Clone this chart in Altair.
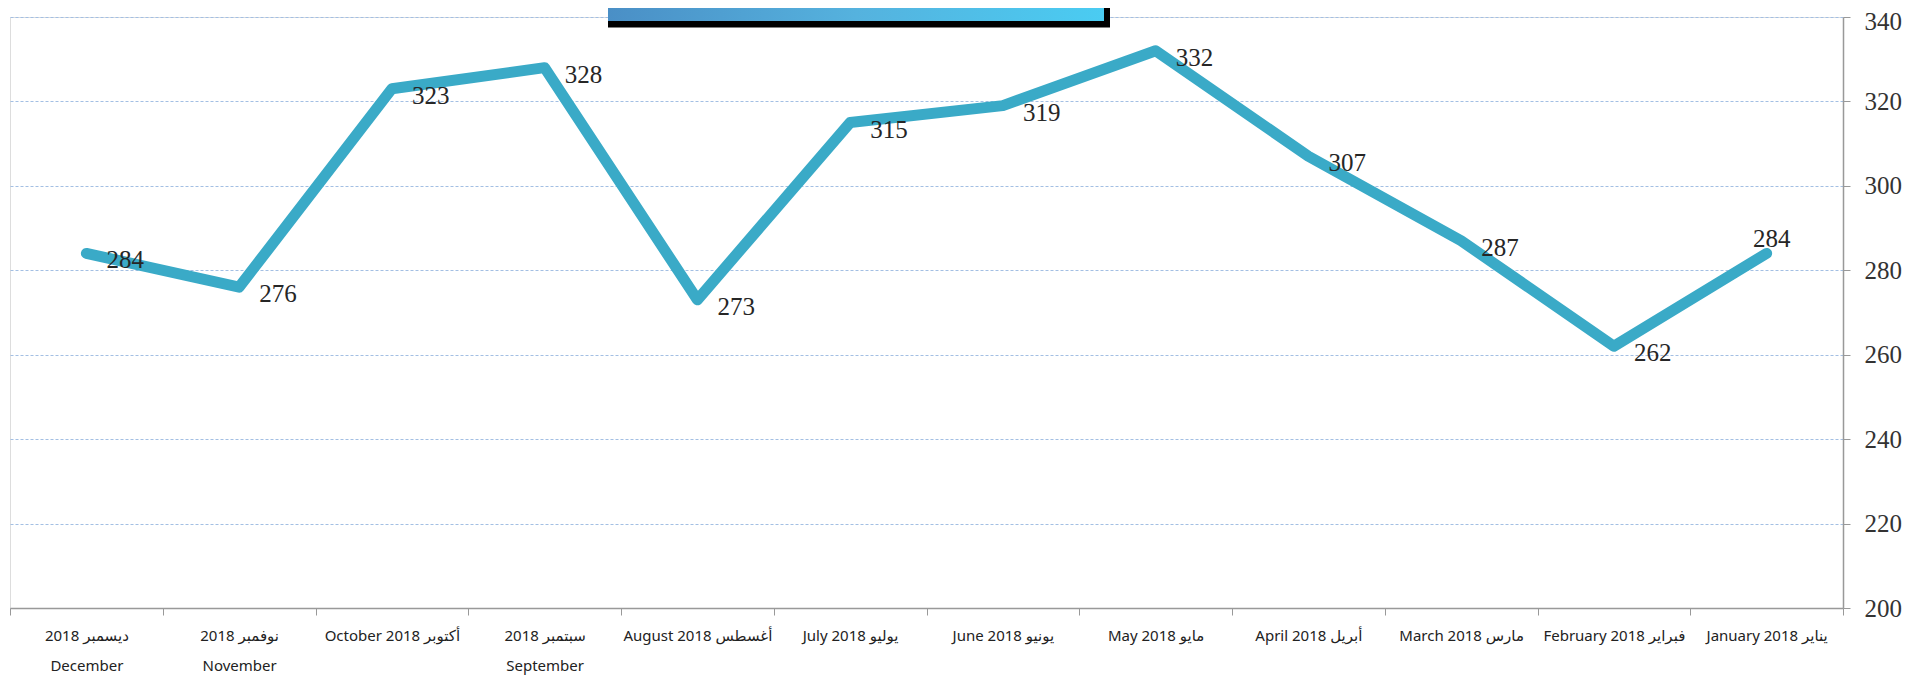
import altair as alt
import pandas as pd

months = [
    "ديسمبر 2018|December",
    "نوفمبر 2018|November",
    "October 2018 أكتوبر",
    "سبتمبر 2018|September",
    "August 2018 أغسطس",
    "July 2018 يوليو",
    "June 2018 يونيو",
    "May 2018 مايو",
    "April 2018 أبريل",
    "March 2018 مارس",
    "February 2018 فبراير",
    "January 2018 يناير",
]
values = [284, 276, 323, 328, 273, 315, 319, 332, 307, 287, 262, 284]
y_ticks = [200, 220, 240, 260, 280, 300, 320, 340]

df = pd.DataFrame({"month": months, "value": values})
df["is_jan"] = df["month"].str.startswith("January")

W, H = 1833, 591

x_enc = alt.X(
    "month:N",
    sort=months,
    scale=alt.Scale(paddingInner=0, paddingOuter=0),
    axis=alt.Axis(
        title=None,
        orient="bottom",
        labelAngle=0,
        labelExpr="split(datum.label, '|')",
        labelFont="Liberation Sans Narrow, Noto Sans, DejaVu Sans",
        labelFontSize=15,
        labelLineHeight=30,
        labelPadding=13,
        labelColor="#222222",
        tickBand="extent",
        tickSize=7,
        tickColor="#999999",
        domainColor="#999999",
        domainWidth=1.5,
        grid=False,
    ),
)
y_enc = alt.Y(
    "value:Q",
    scale=alt.Scale(domain=[200, 340], nice=False, zero=False),
    axis=alt.Axis(
        title=None,
        orient="right",
        values=y_ticks,
        grid=True,
        gridColor="#A3BFE3",
        gridDash=[3, 2],
        gridWidth=1,
        tickSize=7,
        tickColor="#999999",
        domainColor="#999999",
        domainWidth=1.5,
        labelFont="Liberation Serif",
        labelFontSize=25,
        labelColor="#333333",
        labelPadding=14,
        labelOffset={"condition": {"test": "datum.value == 340", "value": 4}, "value": 0},
    ),
)

base = alt.Chart(df)

line = base.mark_line(
    color="#3AAAC7", strokeWidth=11, strokeCap="round", strokeJoin="round"
).encode(x=x_enc, y=y_enc)

labels = base.transform_filter("!datum.is_jan").mark_text(
    align="left", baseline="middle", dx=20, dy=7,
    font="Liberation Serif", fontSize=25, color="#262626",
).encode(x=alt.X("month:N", sort=months), y="value:Q", text="value:Q")

label_jan = base.transform_filter("datum.is_jan").mark_text(
    align="center", baseline="middle", dx=5, dy=-14,
    font="Liberation Serif", fontSize=25, color="#262626",
).encode(x=alt.X("month:N", sort=months), y="value:Q", text="value:Q")

box_df = pd.DataFrame({"k": [0]})
shadow = alt.Chart(box_df).mark_rect(color="#000000").encode(
    x=alt.value(598), x2=alt.value(1100), y=alt.value(-30), y2=alt.value(10.5)
)
box = alt.Chart(box_df).mark_rect(
    fill=alt.LinearGradient(
        gradient="linear",
        stops=[
            alt.GradientStop(color="#4A8FC6", offset=0),
            alt.GradientStop(color="#55B2DE", offset=0.5),
            alt.GradientStop(color="#4ACCF2", offset=1),
        ],
        x1=0, x2=1, y1=0, y2=0,
    )
).encode(
    x=alt.value(598), x2=alt.value(1094), y=alt.value(-30), y2=alt.value(4)
)

chart = alt.layer(line, labels, label_jan, shadow, box).properties(
    width=W,
    height=H,
    autosize=alt.AutoSizeParams(type="none"),
    padding={"left": 2, "top": 9, "right": 79, "bottom": 68},
).configure_view(stroke=None).configure(background="white")

chart.save("out.html", embed_options={"renderer": "svg", "actions": False})
